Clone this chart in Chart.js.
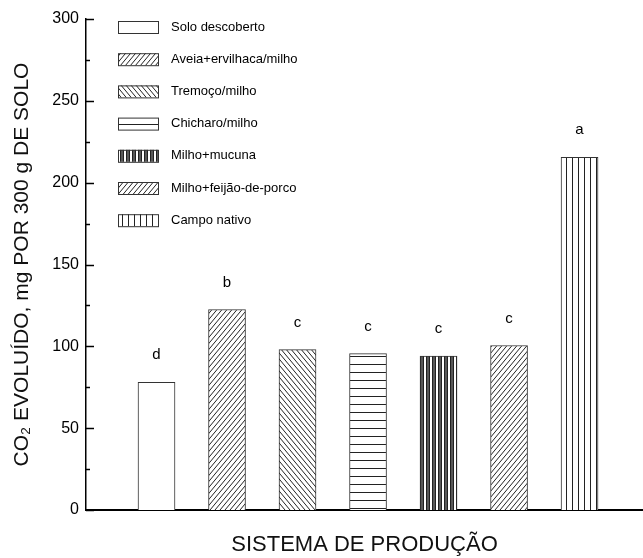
<!DOCTYPE html>
<html>
<head>
<meta charset="utf-8">
<script src="https://cdn.jsdelivr.net/npm/chart.js@4.4.1/dist/chart.umd.min.js"></script>
<style>
  html, body { margin: 0; padding: 0; background: #fff; }
  #wrap { width: 643px; height: 558px; }
</style>
</head>
<body>
<div id="wrap"><canvas id="chart"></canvas></div>
<script>
// Data
const systems = ['Solo descoberto', 'Aveia+ervilhaca/milho', 'Tremoço/milho', 'Chicharo/milho',
                 'Milho+mucuna', 'Milho+feijão-de-porco', 'Campo nativo'];
const positions = [1, 2, 3, 4, 5, 6, 7];
const co2Values = [78, 122.5, 98, 95.5, 94, 100.5, 215.5];
const letters = ['d', 'b', 'c', 'c', 'c', 'c', 'a'];
const yTicks = [0, 50, 100, 150, 200, 250, 300];
const hatchKinds = ['none', 'fwd', 'back', 'horiz', 'vdense', 'fwd', 'vert'];

const font = "'Liberation Sans', Arial, sans-serif";

// build a canvas pattern for each hatch style
function makePattern(kind) {
    const c = document.createElement('canvas');
    const ctx = c.getContext('2d');
    let w = 6, h = 6;
    if (kind === 'fwd' || kind === 'back') { w = 5; h = 6; }
    if (kind === 'horiz') { w = 8; h = 8; }
    if (kind === 'vdense') { w = 6; h = 8; }
    if (kind === 'vert') { w = 6; h = 8; }
    c.width = w; c.height = h;
    ctx.fillStyle = '#fff';
    ctx.fillRect(0, 0, w, h);
    ctx.strokeStyle = '#222';
    ctx.lineWidth = 1;
    ctx.beginPath();
    if (kind === 'fwd') {
        for (let k = -1; k <= 1; k++) {
            ctx.moveTo(k * w, h);
            ctx.lineTo(k * w + w, 0);
        }
    } else if (kind === 'back') {
        for (let k = -1; k <= 1; k++) {
            ctx.moveTo(k * w, 0);
            ctx.lineTo(k * w + w, h);
        }
    } else if (kind === 'horiz') {
        ctx.moveTo(0, 4.5); ctx.lineTo(w, 4.5);
    } else if (kind === 'vdense') {
        ctx.moveTo(0.5, 0); ctx.lineTo(0.5, h);
        ctx.moveTo(3.5, 0); ctx.lineTo(3.5, h);
        ctx.stroke();
        ctx.beginPath();
        ctx.lineWidth = 1.5;
        ctx.moveTo(2, 0); ctx.lineTo(2, h);
    } else if (kind === 'vert') {
        ctx.moveTo(2.5, 0); ctx.lineTo(2.5, h);
    }
    ctx.stroke();
    return ctx.createPattern(c, 'repeat');
}

const patterns = hatchKinds.map(k => k === 'none' ? '#fff' : makePattern(k));

// inward tick marks on the y axis (major 50, minor 25)
const innerTicks = {
    id: 'innerTicks',
    afterDraw(chart) {
        const ctx = chart.ctx;
        const y = chart.scales.y;
        const left = chart.chartArea.left;
        ctx.save();
        ctx.strokeStyle = '#000';
        ctx.lineWidth = 1.5;
        for (let v = 0; v <= 300; v += 25) {
            const py = Math.round(y.getPixelForValue(v)) + 0.5;
            const len = v % 50 === 0 ? 8 : 4;
            ctx.beginPath();
            ctx.moveTo(left, py);
            ctx.lineTo(left + len, py);
            ctx.stroke();
        }
        ctx.restore();
    }
};

// significance letters above the bars
const barLetters = {
    id: 'barLetters',
    afterDatasetsDraw(chart) {
        const ctx = chart.ctx;
        const meta = chart.getDatasetMeta(0);
        ctx.save();
        ctx.fillStyle = '#000';
        ctx.font = '15px ' + font;
        ctx.textAlign = 'center';
        ctx.textBaseline = 'middle';
        meta.data.forEach((bar, i) => {
            ctx.fillText(letters[i], bar.x, bar.y - 27);
        });
        ctx.restore();
    }
};

// legend drawn inside the plot, top left
const boxLegend = {
    id: 'boxLegend',
    afterDraw(chart) {
        const ctx = chart.ctx;
        ctx.save();
        ctx.font = '13px ' + font;
        ctx.textBaseline = 'middle';
        systems.forEach((name, i) => {
            const cy = 27 + i * 32.2;
            ctx.fillStyle = patterns[i];
            ctx.fillRect(118, cy - 6, 40, 12);
            ctx.strokeStyle = '#333';
            ctx.lineWidth = 1;
            ctx.strokeRect(118.5, cy - 5.5, 40, 12);
            ctx.fillStyle = '#000';
            ctx.fillText(name, 171, cy);
        });
        ctx.restore();
    }
};

new Chart(document.getElementById('chart'), {
    type: 'bar',
    data: {
        datasets: [{
            data: positions.map((p, i) => ({ x: p, y: co2Values[i] })),
            backgroundColor: patterns,
            borderColor: '#333',
            borderWidth: 1,
            borderSkipped: 'bottom',
            barThickness: 37
        }]
    },
    options: {
        responsive: true,
        maintainAspectRatio: false,
        animation: false,
        layout: { padding: { top: 19, right: 0, bottom: 0, left: 0 } },
        plugins: { legend: { display: false }, tooltip: { enabled: false } },
        scales: {
            x: {
                type: 'linear',
                offset: false,
                min: 0,
                max: 7.9,
                grid: { display: false },
                border: { display: true, color: '#000', width: 2 },
                ticks: { display: false },
                title: {
                    display: true,
                    text: 'SISTEMA DE PRODUÇÃO',
                    color: '#111',
                    font: { family: font, size: 22 },
                    padding: { top: 0, bottom: 0 }
                },
                afterFit(scale) { scale.height = 48; }
            },
            y: {
                min: 0,
                max: 300,
                afterBuildTicks(scale) { scale.ticks = yTicks.map(v => ({ value: v })); },
                grid: { display: false, drawTicks: false },
                border: { display: true, color: '#000', width: 1.5 },
                ticks: {
                    color: '#000',
                    padding: 7,
                    font: { family: font, size: 16 }
                },
                title: {
                    display: true,
                    text: 'CO₂ EVOLUÍDO, mg POR 300 g DE SOLO',
                    color: '#111',
                    font: { family: font, size: 21 },
                    padding: { top: 10, bottom: 0 }
                },
                afterFit(scale) { scale.width = 86; }
            }
        }
    },
    plugins: [innerTicks, barLetters, boxLegend]
});
</script>
</body>
</html>
